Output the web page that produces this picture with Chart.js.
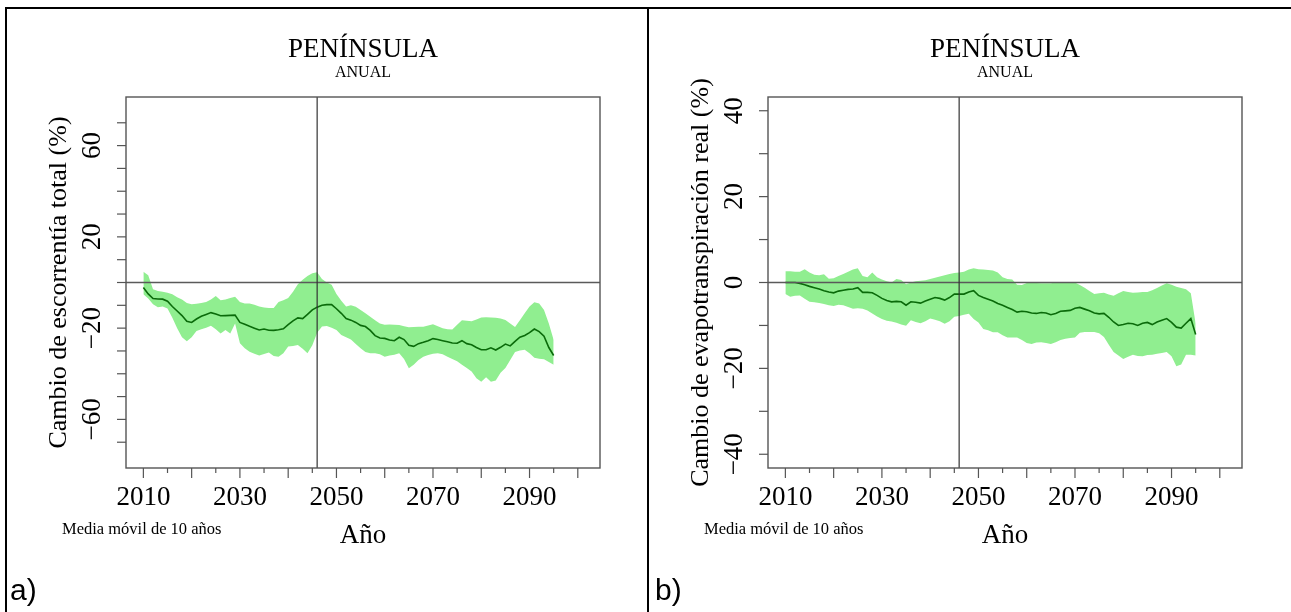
<!DOCTYPE html>
<html lang="es">
<head>
<meta charset="utf-8">
<title>Península - cambio anual</title>
<script src="https://cdn.jsdelivr.net/npm/chart.js@4.4.1/dist/chart.umd.min.js"></script>
<style>
  html, body { margin: 0; padding: 0; background: #fff; }
  body { width: 1291px; height: 612px; position: relative; overflow: hidden; }
  .panel { position: absolute; top: 0; height: 612px; }
  #panel-a { left: 0; width: 648px; }
  #panel-b { left: 648px; width: 643px; }
  .rule { position: absolute; background: #000; }
</style>
</head>
<body>
<div class="panel" id="panel-a"><canvas id="chart-a" width="648" height="612"></canvas></div>
<div class="panel" id="panel-b"><canvas id="chart-b" width="643" height="612"></canvas></div>
<div class="rule" style="left:5px; top:7px; width:1286px; height:2px"></div>
<div class="rule" style="left:5px; top:7px; width:2px; height:605px"></div>
<div class="rule" style="left:647px; top:7px; width:2px; height:605px"></div>

<script>
// años de la media móvil (10 años)
const years = Array.from({ length: 86 }, (_, i) => 2010 + i);
const refYear = 2046;

const xTicks = [2010, 2015, 2020, 2025, 2030, 2035, 2040, 2045, 2050, 2055,
                2060, 2065, 2070, 2075, 2080, 2085, 2090, 2095, 2100];
const xLabels = [2010, 2030, 2050, 2070, 2090];

// a) escorrentía total (%)
const escMedia = [
  -2.2, -5, -7, -7.2, -7.3, -8.2, -10.5, -12.5, -14.5, -17,
  -17.5, -16, -14.8, -14, -13.2, -13.8, -14.6, -14.5, -14.4, -14.3,
  -17.5, -18.3, -19.2, -20, -20.8, -20.4, -20.9, -21, -20.7, -20.3,
  -18.5, -16.8, -15.5, -15.8, -14, -12, -10.8, -10, -9.7, -9.7,
  -11.5, -13.5, -15.8, -16.5, -17.5, -18.8, -19.3, -21, -23.3, -24.3,
  -24.5, -25.2, -25.5, -24, -25, -27.5, -28, -26.8, -26.2, -25.5,
  -24.6, -25, -25.5, -26, -26.5, -26.6, -25.5, -26.8, -27.3, -28.5,
  -29.5, -29.5, -28.6, -29.6, -28.4, -27, -27.8, -25.8, -24, -23.2,
  -22, -20.4, -21.5, -23.5, -28.5, -32
];
const escMax = [
  4.7, 3.2, -3, -3.7, -4, -4.5, -5.2, -6.5, -7.5, -9,
  -9.5, -9.3, -9, -8.6, -7.5, -5.9, -7.8, -7.5, -6.8, -6.3,
  -8.5, -9.2, -9.2, -9.8, -10.5, -11, -11.2, -11.2, -8.5, -7.8,
  -6.8, -4, -0.8, 1.2, 2.8, 4, 4.5, 1.5, 0, -1,
  -5, -8, -10.5, -10, -10.6, -12, -13.5, -15, -16.5, -18,
  -18.5, -18.4, -18.5, -18.6, -19.2, -19.6, -19.5, -19.4, -19.4, -18.8,
  -18.3, -19.2, -20, -20.5, -20.6, -18.5, -16.5, -16.8, -17, -16.2,
  -15.3, -15.2, -15.3, -15.5, -15.8, -16.4, -18, -19.5, -16.5, -13.5,
  -10.5, -8.7, -9.2, -12, -18, -25.2
];
const escMin = [
  -5.1, -7, -9.5, -10.8, -10.5, -11.4, -15.5, -20, -24, -25.8,
  -24, -21.3, -20.5, -19.8, -19, -20.5, -22.3, -20.8, -22.3, -18,
  -26.6, -28.8, -30.3, -31.2, -32, -31.3, -30.7, -32.2, -32.5, -31,
  -28.1, -27.8, -27.4, -29, -31, -27.5, -22, -19.3, -19.1, -19.8,
  -20.8, -23, -24, -25, -27, -28.8, -30.5, -31, -31, -31.5,
  -32.5, -32, -31.7, -31, -33.5, -37.6, -36, -34, -32.5, -31.8,
  -31.2, -31, -31.5, -32.5, -33.5, -34.5, -36, -37.5, -39, -42,
  -43.5, -41.5, -43.5, -43, -39.5, -37.5, -34, -30.5, -29.8, -29.5,
  -31, -33, -33.4, -33.6, -34.8, -36.1
];
const escTicks = [-70, -60, -50, -40, -30, -20, -10, 0, 10, 20, 30, 40, 50, 60, 70];
const escLabels = [-60, -20, 20, 60];

// b) evapotranspiración real (%)
const etrMedia = [
  0, 0, 0, -0.2, -0.5, -0.9, -1.2, -1.5, -1.9, -2.2,
  -2.4, -2, -1.8, -1.6, -1.5, -1.2, -2.3, -2.3, -2.4, -3,
  -3.7, -4.2, -4.5, -4.4, -4.5, -5.3, -4.5, -4.6, -4.8, -4.3,
  -3.9, -3.5, -3.7, -4.1, -3.5, -2.7, -2.7, -2.7, -2.2, -1.9,
  -3, -3.5, -3.9, -4.3, -4.9, -5.3, -5.8, -6.3, -6.9, -6.7,
  -6.8, -7.1, -7.2, -7, -7.1, -7.5, -7.2, -6.7, -6.6, -6.5,
  -6, -5.8, -6.2, -6.6, -7.1, -7.3, -7.2, -8.1, -9.2, -10,
  -9.8, -9.5, -9.6, -10, -9.5, -9.3, -9.8, -9.2, -8.8, -8.4,
  -9.3, -10.4, -10.6, -9.5, -8.4, -12.1
];
const etrMax = [
  2.6, 2.6, 2.5, 2.5, 3.1, 2.3, 1.8, 1.7, 1.9, 0.9,
  1, 1.5, 2, 2.5, 3, 3.3, 1.5, 1.2, 2.3, 1.2,
  0.7, 0.3, 0, 0.8, 0.6, -0.4, 0, 0.3, 0.4, 0.5,
  0.8, 1.1, 1.4, 1.7, 2, 2.2, 2.3, 2.5, 3, 3.3,
  3.1, 3, 2.9, 2.8, 2.3, 1.2, 0.8, 0.7, -0.5, -0.6,
  -0.1, -0.1, -0.1, -0.2, -0.2, -0.2, 0, 0, 0, 0,
  0, -0.6, -1.2, -2, -2.7, -2.5, -2.4, -2.8, -3.1, -2.5,
  -2, -2.2, -2.4, -2.3, -2.2, -2.2, -1.8, -1.3, -0.7, -0.2,
  -0.5, -1, -1.3, -1.6, -2.5, -9.6
];
const etrMin = [
  -2.7, -3.3, -3.1, -3, -3.8, -4.5, -4.6, -4.8, -5, -5.3,
  -5.5, -5.2, -5.3, -5.7, -6.1, -6, -6.1, -6.5, -7.2, -7.9,
  -8.5, -8.9, -9.1, -9.4, -9.8, -10.1, -8.8, -9.2, -9.5, -9,
  -8.4, -8.7, -9, -9.6, -9, -8, -7.8, -7.5, -7.3, -8.5,
  -9.3, -10.8, -11.1, -11.6, -11.6, -12.3, -12.8, -12.8, -12.8, -13.4,
  -14.1, -14.3, -14, -13.9, -14.1, -14.3, -13.9, -13.4, -13.1, -12.9,
  -12.8, -11.7, -11.5, -11.5, -11.5, -11.8, -12.7, -14.5, -16.2, -17,
  -17.8, -17.3, -16.8, -17.1, -17.2, -16.9, -16.8, -16.6, -16.4, -16.2,
  -17.2, -19.5, -19.1, -16.8, -16.8, -17
];
const etrTicks = [-40, -30, -20, -10, 0, 10, 20, 30, 40];
const etrLabels = [-40, -20, 0, 20, 40];

const SERIF = '"Liberation Serif", "Times New Roman", serif';
const SANS = '"Liberation Sans", Arial, sans-serif';

function seg(ctx, x1, y1, x2, y2) {
  ctx.beginPath();
  ctx.moveTo(x1, y1);
  ctx.lineTo(x2, y2);
  ctx.stroke();
}

function fmt(v) {
  return v < 0 ? '\u2212' + Math.abs(v) : String(v);
}

// ejes al estilo R, líneas de referencia y textos
const panelDecor = {
  id: 'panelDecor',
  afterDatasetsDraw(chart, args, opts) {
    const { ctx, chartArea: a, scales: { x, y } } = chart;
    ctx.save();

    // cero y año de referencia
    ctx.strokeStyle = '#5a5a5a';
    ctx.lineWidth = 1.5;
    const y0 = y.getPixelForValue(0);
    seg(ctx, a.left, y0, a.right, y0);
    ctx.strokeStyle = '#333';
    ctx.lineWidth = 1.2;
    const xr = x.getPixelForValue(refYear);
    seg(ctx, xr, a.top, xr, a.bottom);

    // marco
    ctx.strokeStyle = '#555';
    ctx.lineWidth = 1.4;
    ctx.strokeRect(a.left, a.top, a.right - a.left, a.bottom - a.top);

    // marcas del eje x
    ctx.lineWidth = 1.2;
    xTicks.forEach(v => {
      const px = x.getPixelForValue(v);
      seg(ctx, px, a.bottom, px, a.bottom + (v % 10 === 0 ? 10 : 5));
    });
    // marcas del eje y
    opts.yTicks.forEach(v => {
      const py = y.getPixelForValue(v);
      seg(ctx, a.left - 9, py, a.left, py);
    });

    ctx.fillStyle = '#000';
    ctx.textAlign = 'center';
    ctx.textBaseline = 'alphabetic';

    ctx.font = '27px ' + SERIF;
    xLabels.forEach(v => ctx.fillText(String(v), x.getPixelForValue(v), 505));
    opts.yLabels.forEach(v => {
      ctx.save();
      ctx.translate(a.left - 26, y.getPixelForValue(v));
      ctx.rotate(-Math.PI / 2);
      ctx.fillText(fmt(v), 0, 0);
      ctx.restore();
    });

    // título del eje y
    ctx.save();
    ctx.translate(a.left - 60, (a.top + a.bottom) / 2);
    ctx.rotate(-Math.PI / 2);
    ctx.font = '26px ' + SERIF;
    ctx.fillText(opts.yTitle, 0, 0);
    ctx.restore();

    const cx = (a.left + a.right) / 2;
    ctx.font = '27px ' + SERIF;
    ctx.fillText('PENÍNSULA', cx, 57);
    ctx.font = '16px ' + SERIF;
    ctx.fillText('ANUAL', cx, 77);
    ctx.font = '27px ' + SERIF;
    ctx.fillText('Año', cx, 543);

    ctx.textAlign = 'left';
    ctx.font = '16.5px ' + SERIF;
    ctx.fillText('Media móvil de 10 años', a.left - 64, 534);

    ctx.font = '30px ' + SANS;
    ctx.fillText(opts.tag, opts.tagX, 600);
    ctx.restore();
  }
};

function makePanel(canvasId, media, sup, inf, yMax, decor, padding) {
  const pts = arr => years.map((yr, i) => ({ x: yr, y: arr[i] }));
  return new Chart(document.getElementById(canvasId), {
    type: 'line',
    data: {
      datasets: [
        { data: pts(media), borderColor: '#0a6a0a', borderWidth: 1.6, pointRadius: 0, fill: false, tension: 0 },
        { data: pts(sup), borderColor: 'rgba(0,0,0,0)', borderWidth: 0, pointRadius: 0,
          backgroundColor: '#90ee90', fill: '+1', tension: 0 },
        { data: pts(inf), borderColor: 'rgba(0,0,0,0)', borderWidth: 0, pointRadius: 0, fill: false, tension: 0 }
      ]
    },
    options: {
      responsive: false,
      animation: false,
      events: [],
      layout: { padding },
      plugins: { legend: { display: false }, tooltip: { enabled: false }, panelDecor: decor },
      scales: {
        x: { type: 'linear', display: false, min: 2006.4, max: 2104.6 },
        y: { type: 'linear', display: false, min: -yMax, max: yMax }
      }
    },
    plugins: [panelDecor]
  });
}

makePanel('chart-a', escMedia, escMax, escMin, 81.3, {
  yTicks: escTicks, yLabels: escLabels,
  yTitle: 'Cambio de escorrentía total (%)', tag: 'a)', tagX: 10
}, { left: 126, right: 48, top: 97, bottom: 144 });

makePanel('chart-b', etrMedia, etrMax, etrMin, 43.2, {
  yTicks: etrTicks, yLabels: etrLabels,
  yTitle: 'Cambio de evapotranspiración real (%)', tag: 'b)', tagX: 7
}, { left: 120, right: 49, top: 97, bottom: 144 });
</script>
</body>
</html>
